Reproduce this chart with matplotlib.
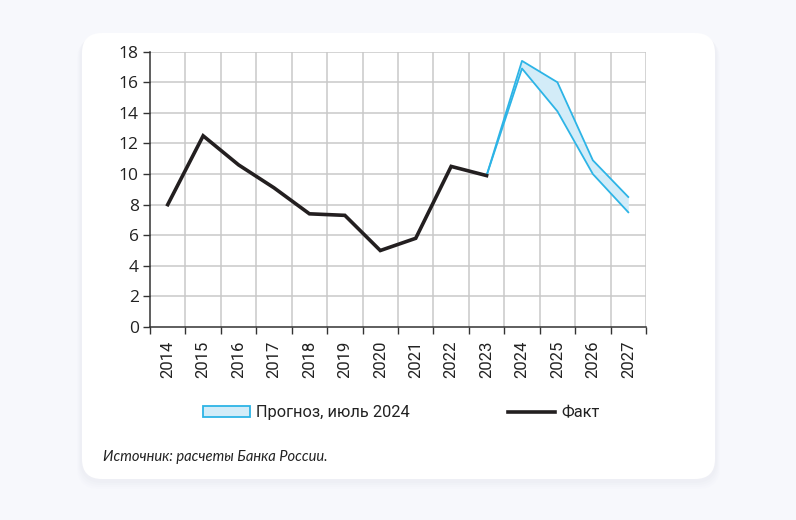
import matplotlib
matplotlib.use("Agg")
import matplotlib.pyplot as plt
from matplotlib.patches import FancyBboxPatch, Patch
from matplotlib.lines import Line2D
import numpy as np

# ---- data ----
years = [2014, 2015, 2016, 2017, 2018, 2019, 2020, 2021, 2022, 2023, 2024, 2025, 2026, 2027]
fact_years = [2014, 2015, 2016, 2017, 2018, 2019, 2020, 2021, 2022, 2023]
fact = [8.0, 12.5, 10.6, 9.1, 7.4, 7.3, 5.0, 5.8, 10.5, 9.9]
fc_years = [2023, 2024, 2025, 2026, 2027]
fc_low = [9.9, 16.9, 14.1, 10.0, 7.5]
fc_high = [9.9, 17.4, 16.0, 10.9, 8.5]
y_ticks = [0, 2, 4, 6, 8, 10, 12, 14, 16, 18]
legend_fc = "Прогноз, июль 2024"
legend_fact = "Факт"
source = "Источник: расчеты Банка России."

BG = "#f7f8fc"
BLUE = "#2db4e6"
FILL = "#d3ecf8"
BLACK = "#231f20"
GRID = "#c9c9c9"

fig = plt.figure(figsize=(7.96, 5.2), dpi=100)
fig.patch.set_facecolor(BG)

# card shadow + card (in inches)
for i, a in enumerate([0.025, 0.02, 0.015, 0.01]):
    off = 0.04 + i * 0.02
    sh = FancyBboxPatch((0.82 - off / 2, 0.41 - off), 6.33 + off, 4.46 + off / 2,
                        boxstyle="round,pad=0,rounding_size=0.22",
                        transform=fig.dpi_scale_trans, facecolor="#9098b0",
                        edgecolor="none", alpha=a, zorder=0)
    fig.patches.append(sh)
card = FancyBboxPatch((0.82, 0.41), 6.33, 4.46,
                      boxstyle="round,pad=0,rounding_size=0.2",
                      transform=fig.dpi_scale_trans, facecolor="white",
                      edgecolor="none", zorder=1)
fig.patches.append(card)

ax = fig.add_axes([150 / 796, 1 - 327 / 520, 496 / 796, (327 - 51.7) / 520])
ax.set_facecolor("none")
ax.set_zorder(2)

x = np.arange(len(years))
idx = {y: i for i, y in enumerate(years)}
fx = [idx[y] for y in fact_years]
cx = [idx[y] for y in fc_years]

ax.fill_between(cx, fc_low, fc_high, color=FILL, lw=0, zorder=3)
ax.plot(cx, fc_low, color=BLUE, lw=1.3, zorder=4)
ax.plot(cx, fc_high, color=BLUE, lw=1.3, zorder=4)
ax.plot(fx, fact, color=BLACK, lw=2.6, zorder=5, solid_joinstyle="miter")

ax.set_xlim(-0.5, len(years) - 0.5)
ax.set_ylim(0, 18)
ax.set_yticks(y_ticks)
ax.set_yticklabels([str(v) for v in y_ticks], fontsize=12.5, family="Open Sans", color="#222222")

# grid at category boundaries
bounds = np.arange(-0.5, len(years) + 0.5, 1.0)
for b in bounds[1:]:
    ax.axvline(b, color=GRID, lw=1.1, zorder=1)
for v in y_ticks[1:]:
    ax.axhline(v, color=GRID, lw=1.1, zorder=1)

ax.set_xticks(bounds, minor=False)
ax.set_xticklabels([""] * len(bounds))
ax.set_xticks(x, minor=True)
ax.set_xticklabels([str(y) for y in years], minor=True, rotation=90,
                   fontsize=12, family="Roboto", color="#222222")
ax.tick_params(axis="x", which="minor", length=0, pad=10)
ax.tick_params(axis="x", which="major", length=5, width=1, color="#333333", direction="out")
ax.tick_params(axis="y", length=5, width=1, color="#333333", pad=3)

for s in ["top", "right"]:
    ax.spines[s].set_visible(False)
ax.spines["left"].set_color("#333333")
ax.spines["bottom"].set_color("#333333")
ax.spines["left"].set_linewidth(1.1)
ax.spines["bottom"].set_linewidth(1.1)

handles = [Patch(facecolor=FILL, edgecolor=BLUE, lw=1.3),
           Line2D([0], [0], color=BLACK, lw=2.6)]
leg = fig.legend(handles, [legend_fc, legend_fact], ncol=2, loc="center",
                 bbox_to_anchor=(401 / 796, 1 - 413 / 520), frameon=False,
                 prop={"family": "Roboto", "size": 11.8}, handlelength=2.87,
                 handleheight=0.65, handletextpad=0.37, columnspacing=6.0)
for t in leg.get_texts():
    t.set_color("#222222")

fig.text(103 / 796, 1 - 457 / 520, source, fontsize=10.6, style="italic",
         family="Lato", color="#222222", va="center", ha="left")

fig.savefig("out.png", dpi=100, facecolor=BG)
